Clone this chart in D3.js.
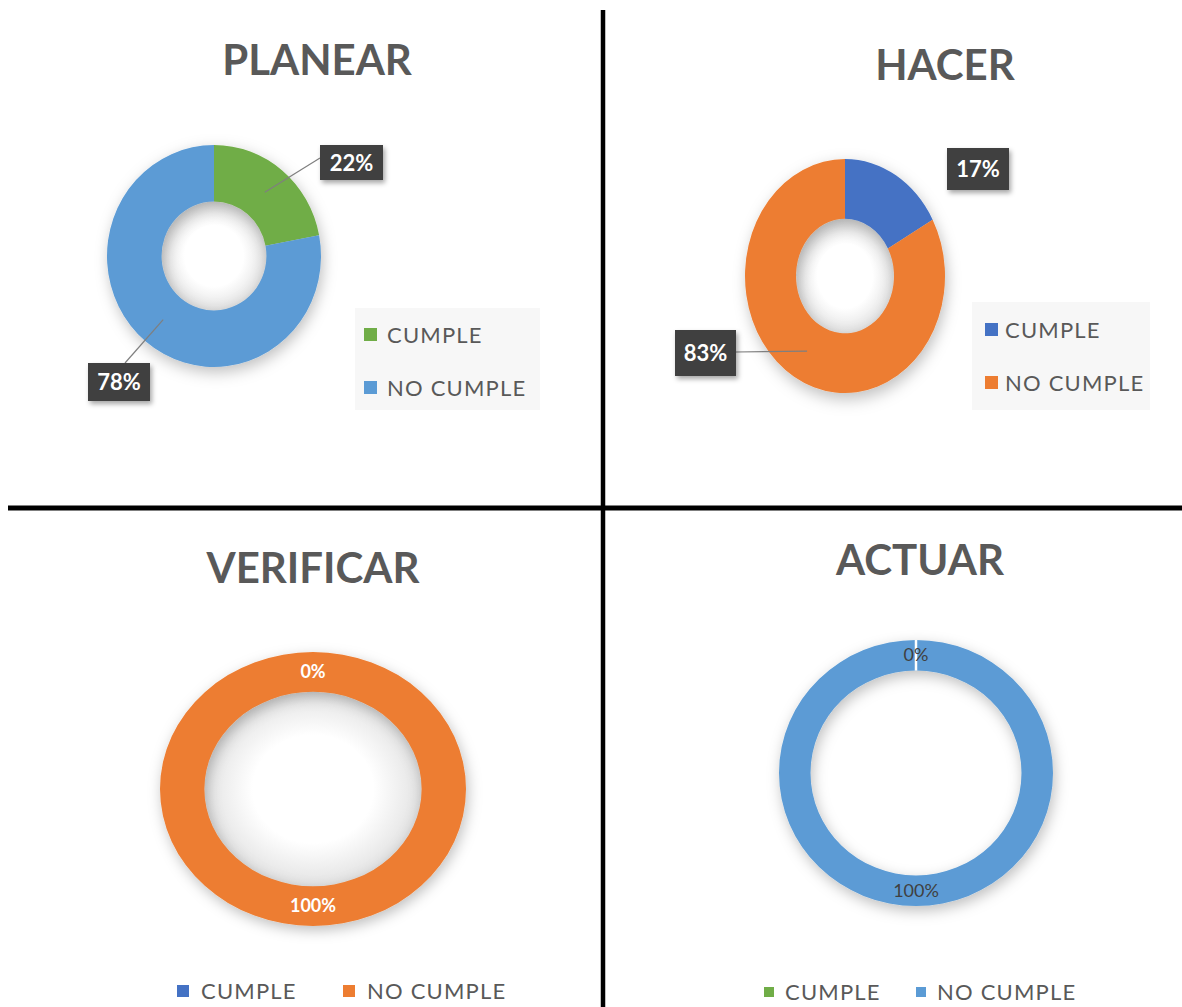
<!DOCTYPE html>
<html><head><meta charset="utf-8">
<script src="https://cdn.jsdelivr.net/npm/d3@7"></script>
<style>body{margin:0;background:#fff}svg{display:block}</style>
</head><body>
<script>
const panelTitles = ["PLANEAR", "HACER", "VERIFICAR", "ACTUAR"];
const categories = ["CUMPLE", "NO CUMPLE"];
const cumpleValues = [22, 17, 0, 0];
const noCumpleValues = [78, 83, 100, 100];
const panelColors = [
  ["#70AD47", "#5B9BD5"],
  ["#4472C4", "#ED7D31"],
  ["#4472C4", "#ED7D31"],
  ["#70AD47", "#5B9BD5"]
];

const W = 1182, H = 1007;
const svg = d3.select("body").append("svg").attr("width", W).attr("height", H);
const defs = svg.append("defs");
const f = defs.append("filter").attr("id", "shadow").attr("x", "-30%").attr("y", "-30%").attr("width", "160%").attr("height", "160%");
f.append("feDropShadow").attr("dx", 2).attr("dy", 5).attr("stdDeviation", 7).attr("flood-color", "#000").attr("flood-opacity", 0.25);
const f2 = defs.append("filter").attr("id", "boxshadow").attr("x", "-30%").attr("y", "-30%").attr("width", "160%").attr("height", "160%");
f2.append("feDropShadow").attr("dx", 2).attr("dy", 3).attr("stdDeviation", 2.5).attr("flood-color", "#000").attr("flood-opacity", 0.35);
const rg = defs.append("radialGradient").attr("id", "hole");
rg.append("stop").attr("offset", "55%").attr("stop-color", "#ffffff");
rg.append("stop").attr("offset", "100%").attr("stop-color", "#e2e2e2");

const FONT = "Lato, 'Open Sans', sans-serif";
const TXT = "#595959";

const layout = [
  {tx: 317, ty: 75, cx: 214, cy: 256, rx: 107, ry: 111, inner: 0.49, hole: true, gapLine: false,
   legend: {type: "v", x: 364, y: 328, sq: 13, tdx: 23, bg: [355, 308, 185, 102]},
   labels: [{bx: 320, by: 145, w: 63, h: 35, line: true, lx: 320, ly: 158},
            {bx: 88, by: 363, w: 62, h: 38, line: true, lx: 125, ly: 363}],
   labelStyle: "box"},
  {tx: 945, ty: 80, cx: 845, cy: 276, rx: 100, ry: 117, inner: 0.49, hole: true, gapLine: false,
   legend: {type: "v", x: 985, y: 323, sq: 13, tdx: 20, bg: [972, 302, 178, 108]},
   labels: [{bx: 947, by: 148, w: 62, h: 42, line: false},
            {bx: 675, by: 330, w: 61, h: 46, line: true, lx: 736, ly: 352}],
   labelStyle: "box"},
  {tx: 313, ty: 583, cx: 313, cy: 789, rx: 153, ry: 137, inner: 0.71, hole: true, gapLine: false,
   legend: {type: "h", x: 177, y: 985, sq: 12, tdx: 24, gap: 166},
   labelStyle: "white"},
  {tx: 920, ty: 575, cx: 916, cy: 773, rx: 137, ry: 133, inner: 0.77, hole: false, gapLine: true,
   legend: {type: "h", x: 764, y: 987, sq: 10, tdx: 21, gap: 152},
   labelStyle: "dark"}
];

const pie = d3.pie().sort(null).value(d => d.v);

panelTitles.forEach((title, i) => {
  const L = layout[i];
  const data = [{c: categories[0], v: cumpleValues[i]}, {c: categories[1], v: noCumpleValues[i]}];
  const arcs = pie(data);
  const colors = panelColors[i];
  const g = svg.append("g");

  g.append("text").attr("x", L.tx).attr("y", L.ty).attr("text-anchor", "middle")
    .attr("font-family", FONT).attr("font-weight", "bold").attr("font-size", 42)
    .attr("fill", TXT).text(title);

  if (L.legend.bg) {
    const b = L.legend.bg;
    g.append("rect").attr("x", b[0]).attr("y", b[1]).attr("width", b[2]).attr("height", b[3]).attr("fill", "#f7f7f7");
  }

  const sy = L.ry / L.rx;
  const rIn = L.rx * L.inner;
  const arc = d3.arc().innerRadius(rIn).outerRadius(L.rx);
  const midR = (L.rx + rIn) / 2;
  const midArc = d3.arc().innerRadius(midR).outerRadius(midR);
  const dg = g.append("g").attr("transform", `translate(${L.cx},${L.cy}) scale(1,${sy})`);
  if (L.hole) {
    dg.append("circle").attr("r", rIn + 1).attr("fill", "url(#hole)");
  }
  const ring = dg.append("g").attr("filter", "url(#shadow)");
  ring.selectAll("path").data(arcs).join("path")
    .attr("d", arc).attr("fill", (d, j) => colors[j]);
  if (L.gapLine) {
    arcs.filter(a => a.data.v === 0).forEach(a => {
      const ang = a.startAngle;
      dg.append("line")
        .attr("x1", rIn * Math.sin(ang)).attr("y1", -rIn * Math.cos(ang))
        .attr("x2", L.rx * Math.sin(ang)).attr("y2", -L.rx * Math.cos(ang))
        .attr("stroke", "#fff").attr("stroke-width", 2.5);
    });
  }

  const toScreen = p => [L.cx + p[0], L.cy + p[1] * sy];

  if (L.labelStyle === "box") {
    arcs.forEach((a, j) => {
      const lb = L.labels[j];
      const c = toScreen(midArc.centroid(a));
      if (lb.line) {
        g.append("line").attr("x1", lb.lx).attr("y1", lb.ly).attr("x2", c[0]).attr("y2", c[1])
          .attr("stroke", "#7f7f7f").attr("stroke-width", 1.2);
      }
      g.append("rect").attr("x", lb.bx).attr("y", lb.by).attr("width", lb.w).attr("height", lb.h)
        .attr("fill", "#404040").attr("filter", "url(#boxshadow)");
      g.append("text").attr("x", lb.bx + lb.w / 2).attr("y", lb.by + lb.h / 2 + 8).attr("text-anchor", "middle")
        .attr("font-family", FONT).attr("font-weight", "bold").attr("font-size", 22).attr("fill", "#fff")
        .text(a.data.v + "%");
    });
  } else {
    arcs.forEach((a, j) => {
      const ang = (a.startAngle + a.endAngle) / 2;
      const x = L.cx + midR * Math.sin(ang);
      const y = L.cy - midR * Math.cos(ang) * sy;
      g.append("text").attr("x", x).attr("y", y + 6).attr("text-anchor", "middle")
        .attr("font-family", FONT).attr("font-weight", L.labelStyle === "white" ? "bold" : "normal")
        .attr("font-size", 18).attr("fill", L.labelStyle === "white" ? "#fff" : "#404040")
        .text(a.data.v + "%");
    });
  }

  const lg = L.legend;
  categories.forEach((cat, j) => {
    let x, y;
    if (lg.type === "v") { x = lg.x; y = lg.y + j * 53; }
    else { x = lg.x + j * lg.gap; y = lg.y; }
    g.append("rect").attr("x", x).attr("y", y).attr("width", lg.sq).attr("height", lg.sq).attr("fill", colors[j]);
    g.append("text").attr("x", x + lg.tdx).attr("y", y + lg.sq / 2 + 8).attr("font-family", FONT)
      .attr("font-size", 22).attr("letter-spacing", 1.2).attr("fill", TXT).text(cat);
  });
});

svg.append("line").attr("x1", 603).attr("y1", 10).attr("x2", 603).attr("y2", H).attr("stroke", "#000").attr("stroke-width", 4.5);
svg.append("line").attr("x1", 8).attr("y1", 508).attr("x2", W).attr("y2", 508).attr("stroke", "#000").attr("stroke-width", 5);
</script>
</body></html>
